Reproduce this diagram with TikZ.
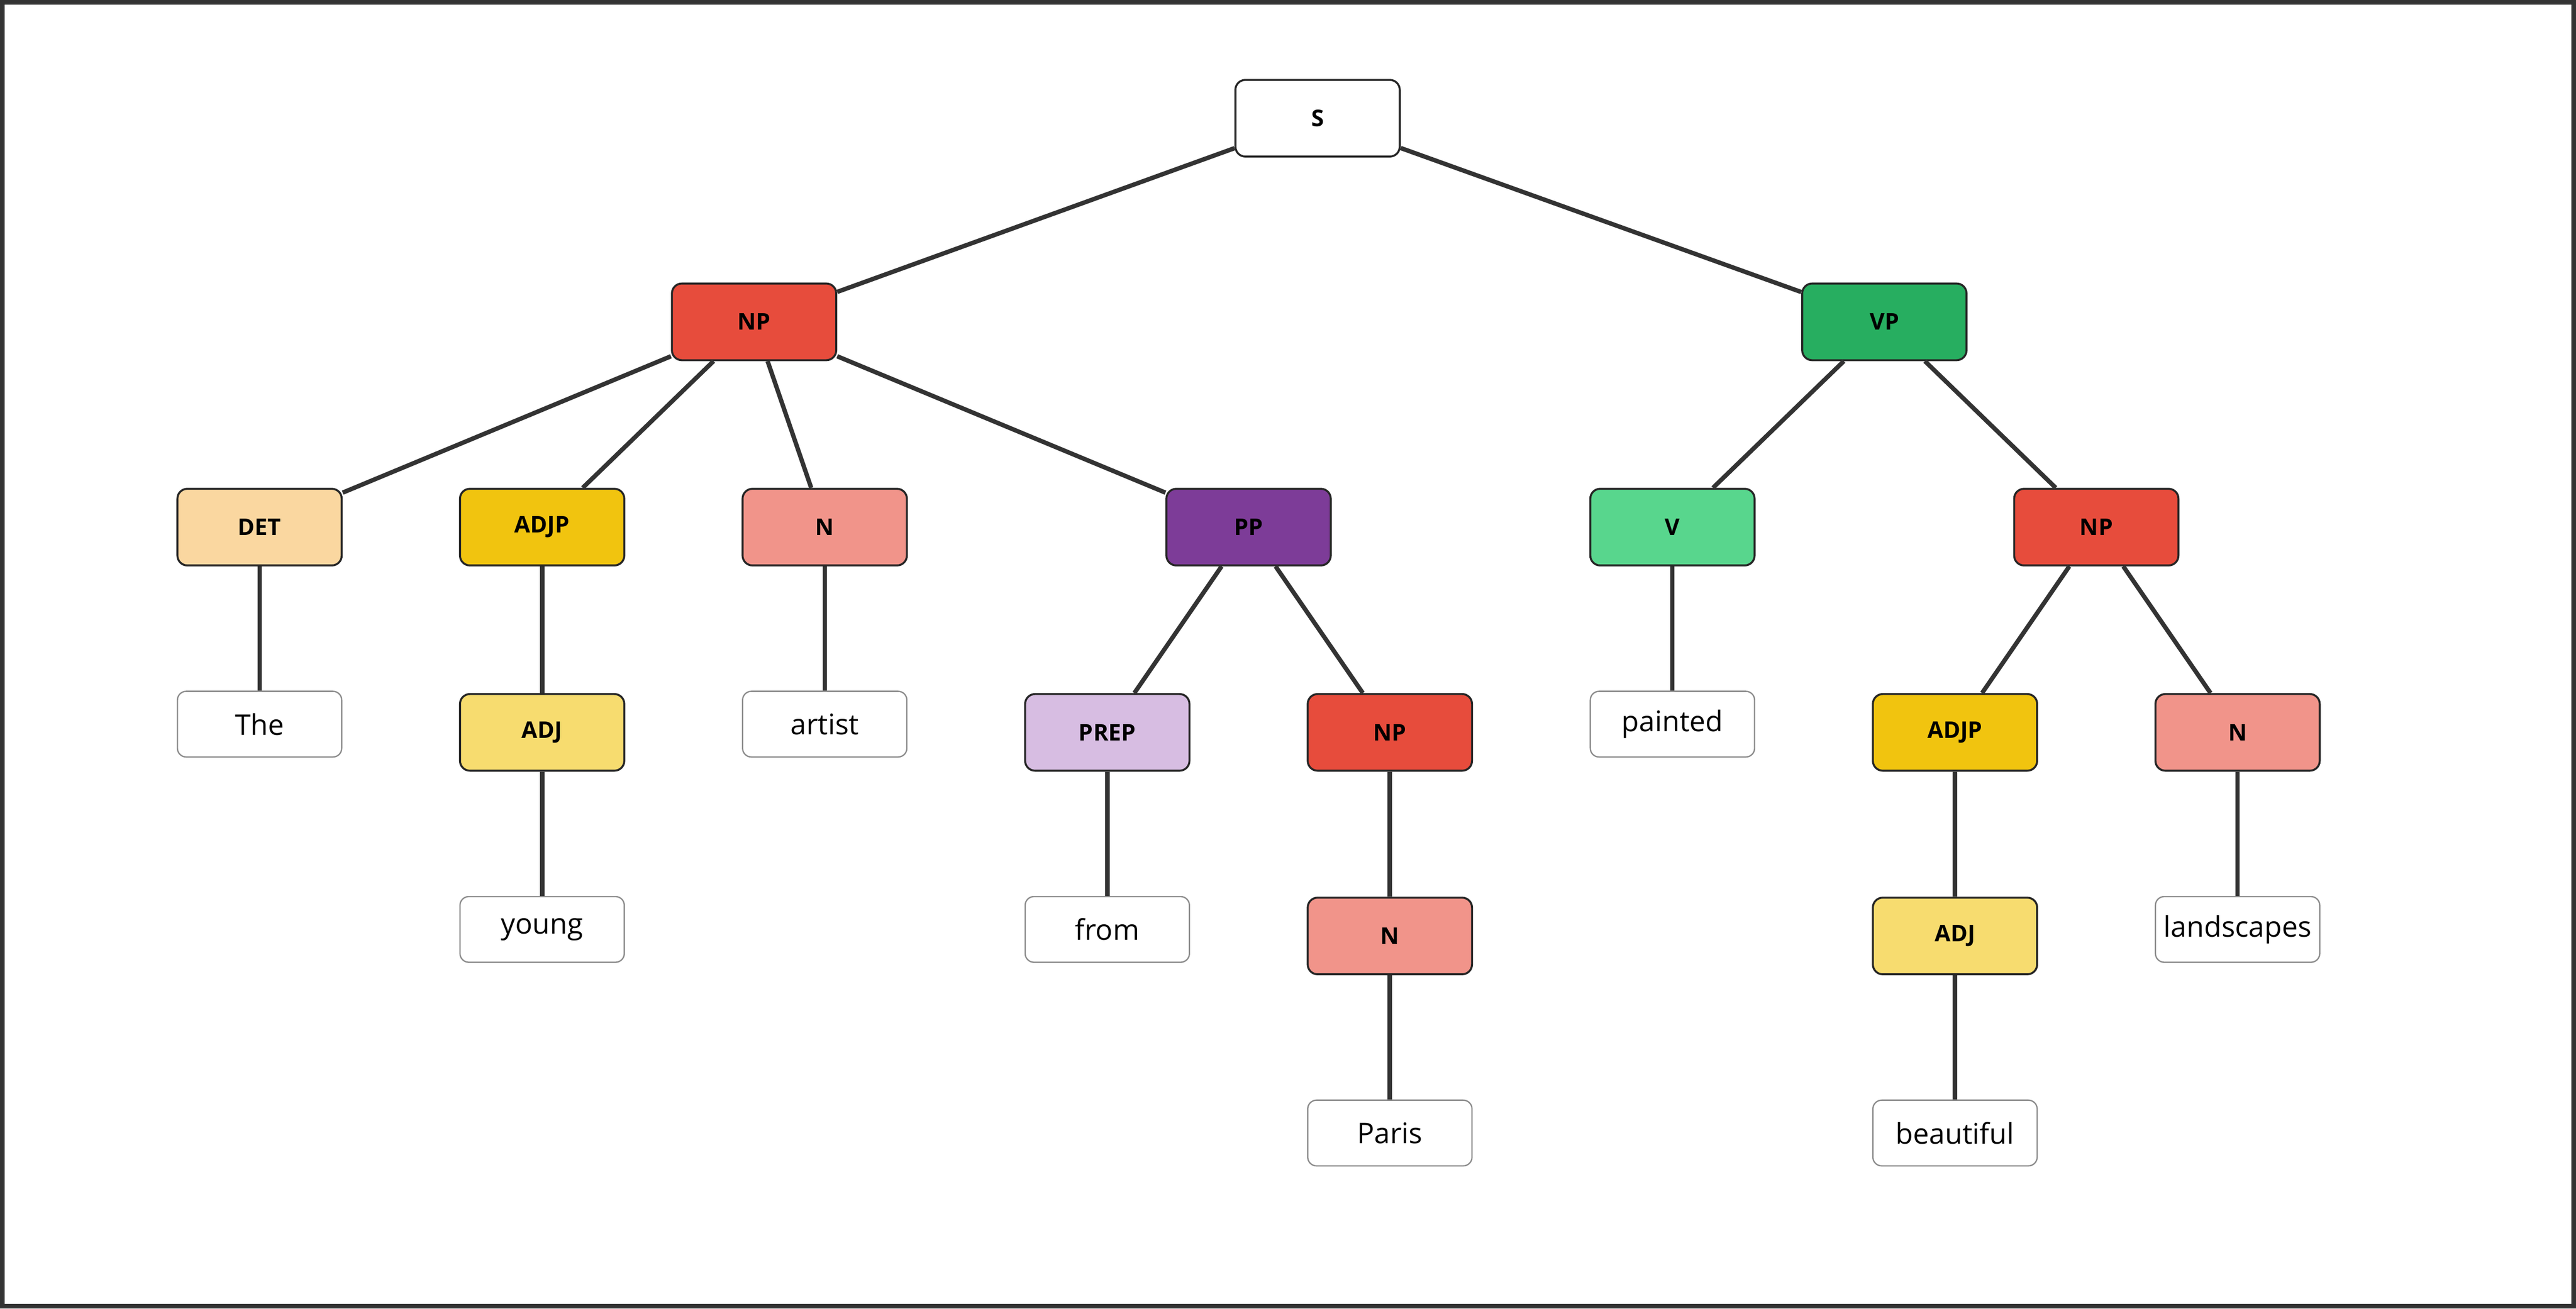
\documentclass[tikz,border=0pt]{standalone}
\usepackage{fontspec}
\setmainfont{Open Sans}
\begin{document}
\begin{tikzpicture}[x=0.75pt,y=-0.75pt,
  cat/.style={draw=black!85,line width=0.9pt,rounded corners=4.5pt,minimum width=75pt,minimum height=35pt,font=\fontsize{10.5}{12}\selectfont\bfseries,inner sep=0pt},
  word/.style={draw=black!45,line width=0.6pt,rounded corners=4pt,fill=white,minimum width=75pt,minimum height=30pt,font=\fontsize{13}{15}\selectfont,inner sep=0pt},
  edge/.style={draw=black!80,line width=2pt}]
\useasboundingbox (0,0) rectangle (1568,797);
\draw[black!80,line width=2.2pt] (1.5,1.5) rectangle (1566.5,795.5);
\definecolor{np}{HTML}{E74C3C}\definecolor{vp}{HTML}{27AE60}
\definecolor{det}{HTML}{FAD7A0}\definecolor{adjp}{HTML}{F1C40F}
\definecolor{adj}{HTML}{F7DC6F}\definecolor{nn}{HTML}{F1948A}
\definecolor{pp}{HTML}{7D3C98}\definecolor{vv}{HTML}{58D68D}
\definecolor{prep}{HTML}{D7BDE2}
\node[cat,fill=white] (S) at (802,72) {S};
\node[cat,fill=np] (NP) at (459,196) {NP};
\node[cat,fill=vp] (VP) at (1147,196) {VP};
\node[cat,fill=det] (DET) at (158,321) {DET};
\node[cat,fill=adjp] (ADJP) at (330,321) {ADJP};
\node[cat,fill=nn] (N) at (502,321) {N};
\node[cat,fill=pp] (PP) at (760,321) {PP};
\node[cat,fill=vv] (V) at (1018,321) {V};
\node[cat,fill=np] (NPb) at (1276,321) {NP};
\node[word] (The) at (158,441) {The};
\node[cat,fill=adj] (ADJ) at (330,446) {ADJ};
\node[word] (artist) at (502,441) {artist};
\node[cat,fill=prep] (PREP) at (674,446) {PREP};
\node[cat,fill=np] (NPc) at (846,446) {NP};
\node[word] (painted) at (1018,441) {painted};
\node[cat,fill=adjp] (ADJPb) at (1190,446) {ADJP};
\node[cat,fill=nn] (Nb) at (1362,446) {N};
\node[word] (young) at (330,566) {young};
\node[word] (from) at (674,566) {from};
\node[cat,fill=nn] (Nc) at (846,570) {N};
\node[cat,fill=adj] (ADJb) at (1190,570) {ADJ};
\node[word] (land) at (1362,566) {landscapes};
\node[word] (Paris) at (846,690) {Paris};
\node[word] (beau) at (1190,690) {beautiful};
\foreach \a/\b in {S/NP,S/VP,NP/DET,NP/ADJP,NP/N,NP/PP,VP/V,VP/NPb,DET/The,ADJP/ADJ,N/artist,PP/PREP,PP/NPc,V/painted,NPb/ADJPb,NPb/Nb,ADJ/young,PREP/from,NPc/Nc,ADJPb/ADJb,Nb/land,Nc/Paris,ADJb/beau}
  \draw[edge] (\a) -- (\b);
\end{tikzpicture}
\end{document}
